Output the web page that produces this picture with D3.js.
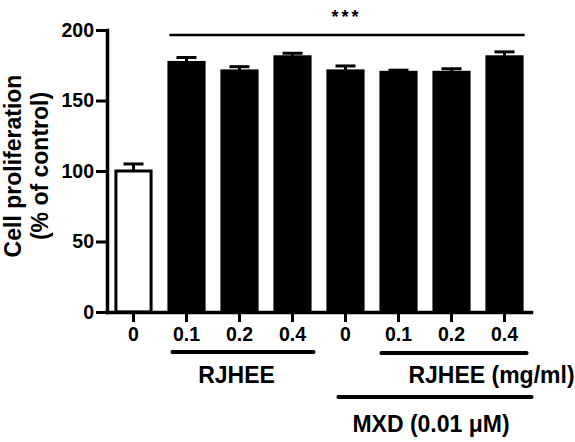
<!DOCTYPE html>
<html>
<head>
<meta charset="utf-8">
<script src="https://cdn.jsdelivr.net/npm/d3@7"></script>
<style>
  body { margin: 0; background: #fff; }
  text { font-family: Arial, "Liberation Sans", sans-serif; font-weight: bold; }
</style>
</head>
<body>
<div id="chart"></div>
<script>
var w = 575,
    h = 442;

// values
var doses = ["0", "0.1", "0.2", "0.4", "0", "0.1", "0.2", "0.4"];
var means = [100, 177, 171, 181, 171, 170, 170, 181];
var errs = [5, 3.5, 3, 2.5, 3.5, 1.5, 2.5, 3.5];
var yTicks = [0, 50, 100, 150, 200];

var margin = { left: 107, right: 44, top: 30, bottom: 130 };

var svg = d3.select('#chart')
    .append('svg')
    .attr('width', w)
    .attr('height', h);

var x = d3.scaleBand()
    .domain(d3.range(doses.length))
    .range([margin.left, w - margin.right])
    .paddingInner(0.28)
    .paddingOuter(0.14);

var y = d3.scaleLinear()
    .domain([0, 200])
    .range([h - margin.bottom, margin.top]);

var bw = x.bandwidth();

// error bars (upper only)
var eb = svg.selectAll('g.err')
    .data(means).enter()
    .append('g')
    .attr('class', 'err');

eb.append('line')
    .attr('x1', function(d, i) { return x(i) + bw / 2 })
    .attr('x2', function(d, i) { return x(i) + bw / 2 })
    .attr('y1', function(d) { return y(d) })
    .attr('y2', function(d, i) { return y(d + errs[i]) })
    .attr('stroke', '#000')
    .attr('stroke-width', 3);

eb.append('line')
    .attr('x1', function(d, i) { return x(i) + bw / 2 - 10 })
    .attr('x2', function(d, i) { return x(i) + bw / 2 + 10 })
    .attr('y1', function(d, i) { return y(d + errs[i]) })
    .attr('y2', function(d, i) { return y(d + errs[i]) })
    .attr('stroke', '#000')
    .attr('stroke-width', 3);

// bars
svg.selectAll('rect.bar')
    .data(means).enter()
    .append('rect')
    .attr('class', 'bar')
    .attr('x', function(d, i) { return x(i) + 1.5 })
    .attr('y', function(d) { return y(d) })
    .attr('width', bw - 3)
    .attr('height', function(d) { return y(0) - y(d) })
    .attr('fill', function(d, i) { return i == 0 ? '#fff' : '#000' })
    .attr('stroke', '#000')
    .attr('stroke-width', 3);

// axes
var yAxis = svg.append('g')
    .attr('transform', 'translate(' + margin.left + ',0)')
    .call(d3.axisLeft(y).tickValues(yTicks).tickSize(11).tickSizeOuter(0).tickPadding(2));

var xAxis = svg.append('g')
    .attr('transform', 'translate(0,' + y(0) + ')')
    .call(d3.axisBottom(x).tickSize(10).tickSizeOuter(0).tickPadding(5)
        .tickFormat(function(i) { return doses[i] }));

[yAxis, xAxis].forEach(function(a) {
    a.select('.domain').attr('stroke-width', 3.5).attr('stroke-linecap', 'square');
    a.selectAll('.tick line').attr('stroke-width', 3);
    a.selectAll('.tick text')
        .attr('fill', '#000')
        .attr('font-size', 19.5)
        .attr('font-family', 'Arial, "Liberation Sans", sans-serif')
        .attr('font-weight', 'bold');
});

// y title
var yt = svg.append('text')
    .attr('transform', 'translate(21,166) rotate(-90)')
    .attr('text-anchor', 'middle')
    .attr('font-size', 23);
yt.append('tspan').attr('x', 0).attr('dy', 0).text('Cell proliferation');
yt.append('tspan').attr('x', 0).attr('dy', 27).text('(% of control)');

// significance
svg.append('line')
    .attr('x1', x(1) + 2)
    .attr('x2', x(7) + bw + 1)
    .attr('y1', y(196.5))
    .attr('y2', y(196.5))
    .attr('stroke', '#000')
    .attr('stroke-width', 2.5);

svg.append('text')
    .attr('x', (x(1) + x(7) + bw) / 2 + 1)
    .attr('y', 23)
    .attr('text-anchor', 'middle')
    .attr('font-size', 18)
    .attr('letter-spacing', 3)
    .text('***');

// group brackets
function groupLine(i0, i1, x0off, x1off, yy) {
    svg.append('line')
        .attr('x1', x(i0) + x0off)
        .attr('x2', x(i1) + bw + x1off)
        .attr('y1', yy)
        .attr('y2', yy)
        .attr('stroke', '#000')
        .attr('stroke-width', 4)
        .attr('stroke-linecap', 'round');
}

groupLine(1, 3, 5, 2, 352);
groupLine(5, 7, 2, 3, 353);
groupLine(4, 7, 12, 8, 397);

svg.append('text')
    .attr('x', (x(1) + x(3) + bw) / 2 - 3)
    .attr('y', 383)
    .attr('text-anchor', 'middle')
    .attr('font-size', 23)
    .text('RJHEE');

svg.append('text')
    .attr('x', x(5) + 29)
    .attr('y', 383)
    .attr('text-anchor', 'start')
    .attr('font-size', 23)
    .text('RJHEE (mg/ml)');

svg.append('text')
    .attr('x', (x(4) + x(7) + bw) / 2 + 6)
    .attr('y', 432)
    .attr('text-anchor', 'middle')
    .attr('font-size', 23)
    .text('MXD (0.01 \u03BCM)');
</script>
</body>
</html>
